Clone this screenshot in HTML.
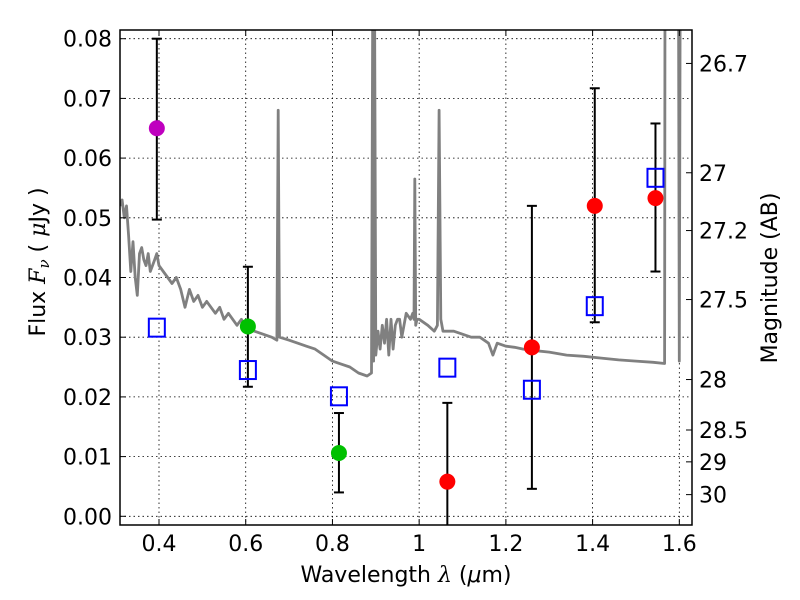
<!DOCTYPE html>
<html><head><meta charset="utf-8"><style>
html,body{margin:0;padding:0;background:#fff;}
svg{display:block;font-family:"DejaVu Sans","Liberation Sans",sans-serif;}
</style></head><body>
<svg id="chart" width="800" height="600" viewBox="0 0 800 600"></svg>
<script>
const xTicks=[0.4,0.6,0.8,1.0,1.2,1.4,1.6];
const xTickLabels=["0.4","0.6","0.8","1","1.2","1.4","1.6"];
const yTicks=[0,0.01,0.02,0.03,0.04,0.05,0.06,0.07,0.08];
const yTickLabels=["0.00","0.01","0.02","0.03","0.04","0.05","0.06","0.07","0.08"];
const magTicks=[26.7,27,27.2,27.5,28,28.5,29,30];
const magTickLabels=["26.7","27","27.2","27.5","28","28.5","29","30"];
const obsWave=[0.395,0.605,0.815,1.065,1.26,1.405,1.545];
const obsFlux=[0.065,0.0318,0.0106,0.0058,0.0283,0.052,0.0533];
const obsLow=[0.0497,0.0217,0.004,-0.01,0.0046,0.0325,0.041];
const obsHigh=[0.080,0.0418,0.0173,0.019,0.052,0.0717,0.0658];
const obsColor=["#bf00bf","#00c000","#00c000","#ff0000","#ff0000","#ff0000","#ff0000"];
const modelWave=[0.395,0.605,0.815,1.065,1.26,1.405,1.545];
const modelFlux=[0.0316,0.0245,0.0201,0.0249,0.0212,0.0352,0.0567];
const specWave=[0.31,0.315,0.32,0.325,0.33,0.335,0.34,0.345,0.35,0.355,0.36,0.365,0.37,0.375,0.38,0.385,0.39,0.395,0.40,0.41,0.42,0.43,0.44,0.45,0.46,0.47,0.48,0.49,0.50,0.51,0.52,0.53,0.54,0.55,0.56,0.57,0.58,0.59,0.60,0.62,0.64,0.66,0.672,0.675,0.678,0.70,0.72,0.74,0.76,0.78,0.80,0.82,0.84,0.86,0.88,0.89,0.893,0.895,0.897,0.90,0.905,0.91,0.915,0.92,0.925,0.93,0.935,0.94,0.945,0.95,0.955,0.96,0.97,0.98,0.985,0.988,0.99,0.992,0.995,1.0,1.02,1.035,1.042,1.046,1.05,1.055,1.06,1.08,1.10,1.12,1.14,1.16,1.17,1.18,1.20,1.22,1.24,1.26,1.30,1.34,1.38,1.42,1.46,1.50,1.54,1.566,1.567,1.572,1.58,1.595,1.598,1.6,1.602,1.604,1.606,1.61];
const specFlux=[0.052,0.053,0.050,0.052,0.047,0.041,0.046,0.040,0.037,0.044,0.045,0.043,0.042,0.044,0.041,0.042,0.043,0.044,0.042,0.041,0.040,0.039,0.040,0.038,0.035,0.038,0.036,0.037,0.035,0.036,0.035,0.034,0.035,0.033,0.034,0.033,0.032,0.033,0.0315,0.031,0.0305,0.030,0.0295,0.068,0.030,0.0295,0.029,0.0285,0.028,0.027,0.026,0.0255,0.025,0.024,0.0235,0.024,0.09,0.026,0.09,0.027,0.031,0.028,0.032,0.029,0.033,0.027,0.033,0.028,0.032,0.033,0.033,0.030,0.034,0.033,0.034,0.033,0.0565,0.032,0.033,0.033,0.032,0.031,0.032,0.068,0.033,0.031,0.031,0.031,0.0305,0.030,0.030,0.029,0.027,0.029,0.0285,0.0283,0.028,0.0278,0.0275,0.027,0.0268,0.0265,0.0262,0.026,0.0258,0.0256,0.09,0.09,0.09,0.09,0.09,0.026,0.09,0.09,0.09,0.09];

const X0=120,X1=692,Y0=30,Y1=525;
function xs(v){return 159+(v-0.4)*433.6;}
function ys(v){return 516.3-v*5970;}
function magToFlux(m){return Math.pow(10,(23.9-m)/2.5);}
const svg=document.getElementById('chart');
const NS='http://www.w3.org/2000/svg';
function mk(t,a,parent){const e=document.createElementNS(NS,t);for(const k in a)e.setAttribute(k,a[k]);(parent||svg).appendChild(e);return e;}

const defs=mk('defs',{});
const cp=mk('clipPath',{id:'plotclip'},defs);
mk('rect',{x:X0,y:Y0,width:X1-X0,height:Y1-Y0},cp);

const grid=mk('g',{});


xTicks.forEach(t=>{mk('line',{x1:xs(t),x2:xs(t),y1:Y0,y2:Y1,stroke:'#000','stroke-width':0.8,'stroke-dasharray':'1.5,3'},grid);});
yTicks.forEach(t=>{mk('line',{x1:X0,x2:X1,y1:ys(t),y2:ys(t),stroke:'#000','stroke-width':0.8,'stroke-dasharray':'1.5,3'},grid);});

const plot=mk('g',{'clip-path':'url(#plotclip)'});
let d='';
specWave.forEach((w,i)=>{d+=(i?'L':'M')+xs(w).toFixed(1)+','+ys(specFlux[i]).toFixed(1);});
const spec=mk('path',{d:d,fill:'none',stroke:'#808080','stroke-width':2.8,'stroke-linejoin':'round'},plot);



obsWave.forEach((w,i)=>{
  const g=mk('g',{},plot);
  
  
  const x=xs(w);
  mk('line',{x1:x,x2:x,y1:ys(obsLow[i]),y2:ys(obsHigh[i]),stroke:'#000','stroke-width':2},g);
  mk('line',{x1:x-5,x2:x+5,y1:ys(obsLow[i]),y2:ys(obsLow[i]),stroke:'#000','stroke-width':2},g);
  mk('line',{x1:x-5,x2:x+5,y1:ys(obsHigh[i]),y2:ys(obsHigh[i]),stroke:'#000','stroke-width':2},g);
});
modelWave.forEach((w,i)=>{
  const r=mk('rect',{x:xs(w)-8,y:ys(modelFlux[i])-9,width:16,height:18,fill:'none',stroke:'#0000ff','stroke-width':2},plot);
  
  
});
obsWave.forEach((w,i)=>{
  const c=mk('circle',{cx:xs(w),cy:ys(obsFlux[i]),r:8,fill:obsColor[i]},plot);
  
  
});

const frame=mk('rect',{x:X0,y:Y0,width:X1-X0,height:Y1-Y0,fill:'none',stroke:'#000','stroke-width':1.5});



const xax=mk('g',{});


xTicks.forEach((t,i)=>{
  const x=xs(t);
  mk('line',{x1:x,x2:x,y1:Y1,y2:Y1-6,stroke:'#000','stroke-width':1},xax);
  mk('line',{x1:x,x2:x,y1:Y0,y2:Y0+6,stroke:'#000','stroke-width':1},xax);
  const tx=mk('text',{x:x,y:551,'font-size':22,'text-anchor':'middle'},xax);tx.textContent=xTickLabels[i];
});
const yax=mk('g',{});


yTicks.forEach((t,i)=>{
  const y=ys(t);
  mk('line',{x1:X0,x2:X0+6,y1:y,y2:y,stroke:'#000','stroke-width':1},yax);
  const tx=mk('text',{x:112,y:y+8,'font-size':22,'text-anchor':'end'},yax);tx.textContent=yTickLabels[i];
});
const rax=mk('g',{});


magTicks.forEach((m,i)=>{
  const y=ys(magToFlux(m));
  mk('line',{x1:X1,x2:X1-6,y1:y,y2:y,stroke:'#000','stroke-width':1},rax);
  const tx=mk('text',{x:699,y:y+8,'font-size':22,'text-anchor':'start'},rax);tx.textContent=magTickLabels[i];
});
</script>
<svg style="position:absolute;left:0;top:0" width="800" height="600">
<text x="406" y="582" font-family="DejaVu Sans, sans-serif" font-size="22" text-anchor="middle">Wavelength  <tspan font-family="DejaVu Serif, serif" font-style="italic">λ</tspan> (<tspan font-style="italic">μ</tspan>m)</text>
<text transform="translate(45,262) rotate(-90)" font-family="DejaVu Sans, sans-serif" font-size="22" text-anchor="middle">Flux  <tspan font-family="DejaVu Serif, serif" font-style="italic">F<tspan font-size="15" dy="4">ν</tspan></tspan><tspan dy="-4">  ( </tspan><tspan font-family="DejaVu Serif, serif" font-style="italic">μ</tspan>Jy )</text>
<text transform="translate(777,278) rotate(-90)" font-family="DejaVu Sans, sans-serif" font-size="22" text-anchor="middle">Magnitude (AB)</text>
</svg>
</body></html>
